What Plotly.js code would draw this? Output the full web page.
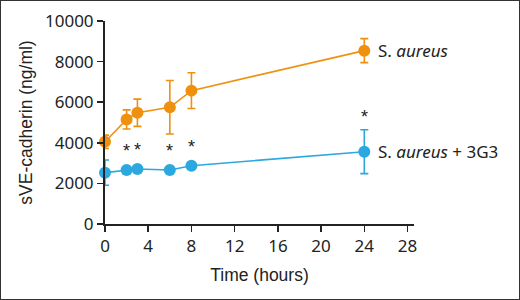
<!DOCTYPE html>
<html><head><meta charset="utf-8">
<script src="https://cdn.plot.ly/plotly-3.0.1.min.js"></script>
<style>html,body{margin:0;padding:0;background:#fff}#c{width:518px;height:298px;border:1px solid #333}</style>
</head><body><div id="c"></div>
<script>
const hours = [0, 2, 3, 6, 8, 24];
const aureus = [4050, 5150, 5480, 5750, 6570, 8540];
const aureusErr = [330, 470, 670, 1320, 880, 590];
const blocked = [2530, 2660, 2710, 2660, 2870, 3560];
const blockedErr = [620, 60, 60, 60, 60, 1080];
const starAt = [2, 3, 6, 8, 24];
const seriesNames = ["S. <i>aureus</i>", "S. <i>aureus</i> + 3G3"];
const xTicks = [0, 4, 8, 12, 16, 20, 24, 28];
const yTicks = [0, 2000, 4000, 6000, 8000, 10000];
const yTickText = ['0', '2000', '4000', '6000', '8000', '10000'];

const orange = '#F0900F', blue = '#2CA8E0';
const tickFont = 'Noto Sans, sans-serif';
const narrow = {family:'Liberation Sans Narrow, Liberation Sans, Arial, sans-serif', size:17.5, weight:'normal', color:'#222'};
function tr(y, e, col){
  return {x: hours, y: y, type:'scatter', mode:'lines+markers', cliponaxis:false,
    line:{color:col, width:1.6}, marker:{color:col, size:12},
    error_y:{type:'data', array:e, visible:true, color:col, thickness:1.6, width:4}};
}
const ann = [];
starAt.forEach(h => {
  const i = hours.indexOf(h);
  ann.push({x:h, y:blocked[i]+blockedErr[i], xref:'x', yref:'y', text:'*', showarrow:false,
    yanchor:'bottom', yshift: (blockedErr[i] > 200 ? 1 : 6), font:{size:18, color:'#222', family:'Liberation Sans, sans-serif'}});
});
[[aureus, seriesNames[0]], [blocked, seriesNames[1]]].forEach(([arr, name]) => {
  ann.push({x:hours[hours.length-1], y:arr[arr.length-1], xref:'x', yref:'y', text:name, showarrow:false,
    xanchor:'left', xshift:12, font:{size:17, color:'#222', family:tickFont}});
});
const layout = {
  width:518, height:298, showlegend:false,
  margin:{l:104, r:105, t:20, b:75},
  paper_bgcolor:'#fff', plot_bgcolor:'#fff',
  font:{family:tickFont, color:'#222', size:17},
  xaxis:{range:[0, 28.6], tickvals:xTicks, ticks:'outside', ticklen:6, tickwidth:1.5, tickcolor:'#222',
    showline:true, linecolor:'#222', linewidth:2, showgrid:false, zeroline:false,
    tickfont:{size:17, family:tickFont},
    title:{text:'Time (hours)', font:narrow, standoff:12}},
  yaxis:{range:[0, 10000], tickvals:yTicks, ticktext:yTickText, ticks:'outside', ticklen:6, tickwidth:1.5, tickcolor:'#222',
    showline:true, linecolor:'#222', linewidth:2, showgrid:false, zeroline:false,
    tickfont:{size:17, family:tickFont},
    title:{text:'sVE-cadherin (ng/ml)', font:narrow, standoff:8}},
  annotations: ann
};
Plotly.newPlot('c', [tr(aureus, aureusErr, orange), tr(blocked, blockedErr, blue)], layout, {staticPlot:true});
</script></body></html>
